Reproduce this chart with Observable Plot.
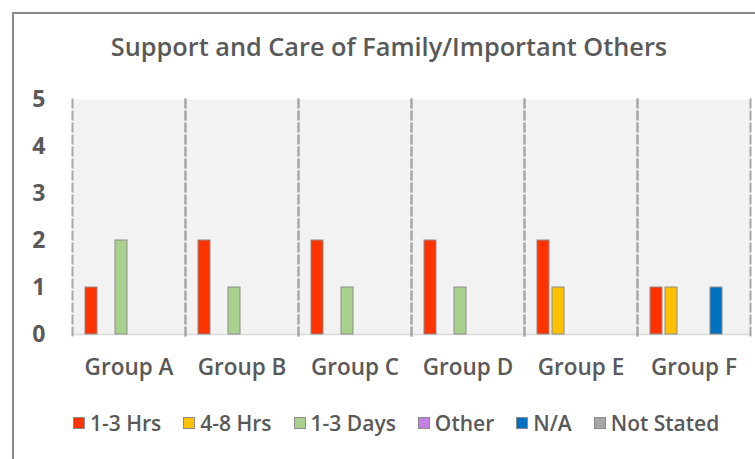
<!DOCTYPE html>
<html>
<head>
<meta charset="utf-8">
<script src="https://cdn.jsdelivr.net/npm/d3@7"></script>
<script src="https://cdn.jsdelivr.net/npm/@observablehq/plot@0.6"></script>
<style>
  html, body { margin: 0; padding: 0; background: #fff; }
  body { width: 755px; height: 459px; position: relative; overflow: hidden; font-family: "Open Sans", sans-serif; }
  #frame { position: absolute; left: 12px; top: 12px; width: 800px; height: 500px; border: 2px solid #8a8a8a; box-sizing: border-box; }
  #title { position: absolute; left: 0; width: 778px; top: 29px; text-align: center; font-size: 25.3px; font-weight: 600; color: #595959; }
  #chart { position: absolute; left: 0; top: 80px; }
  #legend { position: absolute; left: 73px; top: 409px; display: flex; align-items: center; font-size: 21px; font-weight: 600; color: #595959; white-space: nowrap; }
  .item { display: flex; align-items: center; margin-right: 22px; }
  .sw { width: 12px; height: 12px; border: 1px solid #8c8c8c; margin-right: 5px; box-sizing: border-box; }
</style>
</head>
<body>
<div id="frame"></div>
<div id="title">Support and Care of Family/Important Others</div>
<div id="chart"></div>
<div id="legend"></div>
<script>
const groups = ["Group A", "Group B", "Group C", "Group D", "Group E", "Group F"];
const series = ["1-3 Hrs", "4-8 Hrs", "1-3 Days", "Other", "N/A", "Not Stated"];
const colors = ["#FF3300", "#FFC000", "#A9D18E", "#C47FE0", "#0070C0", "#A5A5A5"];
// values per series, in the order of groups
const hrs13    = [1, 2, 2, 2, 2, 1];
const hrs48    = [0, 0, 0, 0, 1, 1];
const days13   = [2, 1, 1, 1, 0, 0];
const other    = [0, 0, 0, 0, 0, 0];
const na       = [0, 0, 0, 0, 0, 1];
const notStated= [0, 0, 0, 0, 0, 0];
const yTicks = [0, 1, 2, 3, 4, 5];

const seriesValues = [hrs13, hrs48, days13, other, na, notStated];
const data = [];
groups.forEach((g, gi) => {
  series.forEach((s, si) => {
    data.push({group: g, series: s, value: seriesValues[si][gi]});
  });
});

const plot = Plot.plot({
  width: 755,
  height: 320,
  marginLeft: 72,
  marginRight: 5,
  marginTop: 19,
  marginBottom: 66,
  style: {fontFamily: "Open Sans, sans-serif", background: "transparent"},
  fx: {domain: groups, padding: 0, label: null},
  x: {domain: series, axis: null, paddingInner: 0.23, paddingOuter: 0.85},
  y: {domain: [0, 5], ticks: yTicks, label: null},
  color: {domain: series, range: colors},
  marks: [
    Plot.frame({fill: "#F2F2F2", stroke: null}),
    Plot.ruleY([0], {stroke: "#D9D9D9", strokeWidth: 1.5}),
    Plot.frame({anchor: "left", stroke: "#A6A6A6", strokeWidth: 2, strokeDasharray: "8,4", insetBottom: -3}),
    Plot.frame({anchor: "right", stroke: "#A6A6A6", strokeWidth: 2, strokeDasharray: "8,4", insetBottom: -3}),
    Plot.barY(data.filter(d => d.value > 0), {fx: "group", x: "series", y: "value", fill: "series", stroke: "#8C8C8C", strokeWidth: 1}),
    Plot.axisY({ticks: yTicks, tickSize: 0, tickPadding: 27, fontSize: 23, fontWeight: 700, fill: "#595959", tickFormat: d => String(d)}),
    Plot.axisFx({anchor: "bottom", tickSize: 0, tickPadding: 25, fontSize: 22.5, fontWeight: 600, fill: "#595959", label: null})
  ]
});
document.getElementById("chart").appendChild(plot);

const legend = document.getElementById("legend");
series.forEach((s, i) => {
  const item = document.createElement("div");
  item.className = "item";
  const sw = document.createElement("div");
  sw.className = "sw";
  sw.style.background = colors[i];
  const t = document.createElement("span");
  t.textContent = s;
  item.appendChild(sw);
  item.appendChild(t);
  legend.appendChild(item);
});
</script>
</body>
</html>
